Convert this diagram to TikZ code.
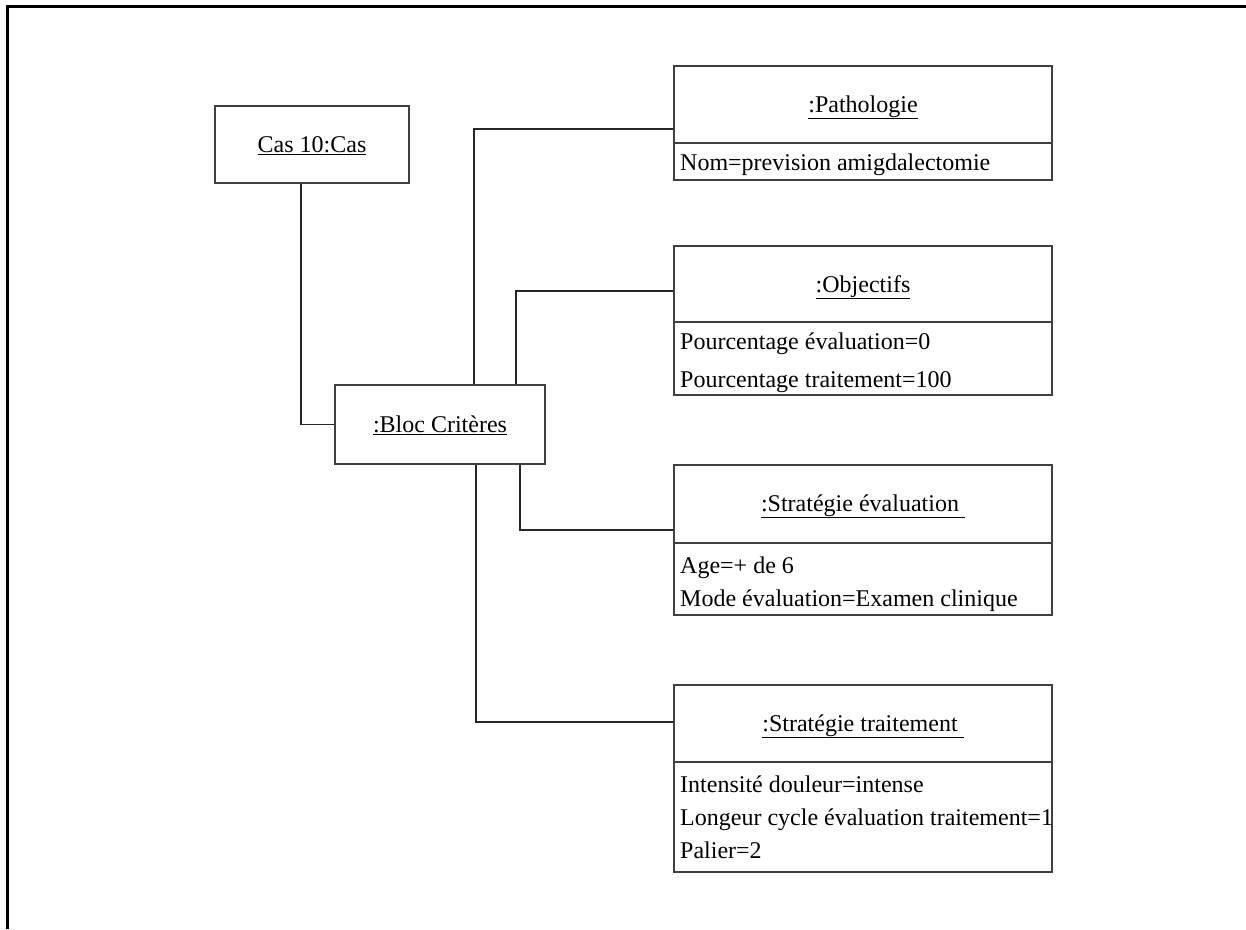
\documentclass[tikz,border=0pt]{standalone}
\usepackage{fontspec}
\setmainfont{Liberation Serif}
\begin{document}
\begin{tikzpicture}[x=1pt,y=-1pt,
  objbox/.style={draw=black!75, line width=1.2pt, fill=white, inner sep=0pt,
    text height=20pt, text depth=5pt, font=\fontsize{24}{28}\selectfont},
  ttl/.style={anchor=base, inner sep=0pt, font=\fontsize{24}{28}\selectfont},
  attr/.style={anchor=base west, inner sep=0pt, font=\fontsize{24}{28}\selectfont},
  divider/.style={draw=black!75, line width=1.2pt},
  conn/.style={draw=black!85, line width=1.2pt}]
\useasboundingbox (0,0) rectangle (1246,929);
% page frame (top and left edges only)
\draw[line width=3pt] (7.5,929) -- (7.5,6) -- (1246,6);

% simple objects
\node[objbox, minimum width=194, minimum height=77] (cas) at (312,144.5) {\underline{Cas 10:Cas}};
\node[objbox, minimum width=210, minimum height=79] (bloc) at (440,424.5) {\underline{:Bloc Critères}};

% objects with attributes
\node[objbox, minimum width=378, minimum height=114] (patho) at (863,123) {};
\node[ttl] (pathoT) at (863,112) {\underline{:Pathologie}};
\draw[divider] (674,143) -- (1052,143);
\node[attr] (pathoA) at (680,170) {Nom=prevision amigdalectomie};

\node[objbox, minimum width=378, minimum height=149] (obj) at (863,320.5) {};
\node[ttl] (objT) at (863,292) {\underline{:Objectifs}};
\draw[divider] (674,322) -- (1052,322);
\node[attr] (objA) at (680,349) {Pourcentage évaluation=0};
\node[attr] (objB) at (680,387) {Pourcentage traitement=100};

\node[objbox, minimum width=378, minimum height=150] (eval) at (863,540) {};
\node[ttl] (evalT) at (863,511) {\underline{:Stratégie évaluation\ }};
\draw[divider] (674,543) -- (1052,543);
\node[attr] (evalA) at (680,573) {Age=+ de 6};
\node[attr] (evalB) at (680,606) {Mode évaluation=Examen clinique};

\node[objbox, minimum width=378, minimum height=187] (trait) at (863,778.5) {};
\node[ttl] (traitT) at (863,731) {\underline{:Stratégie traitement\ }};
\draw[divider] (674,762) -- (1052,762);
\node[attr] (traitA) at (680,792) {Intensité douleur=intense};
\node[attr] (traitB) at (680,825) {Longeur cycle évaluation traitement=1};
\node[attr] (traitC) at (680,858) {Palier=2};

% links
\draw[conn] ([xshift=-11pt]cas.south) |- (bloc.west);
\draw[conn] ([xshift=34pt]bloc.north) |- ([yshift=-6pt]patho.west);
\draw[conn] ([xshift=76pt]bloc.north) |- ([yshift=29.5pt]obj.west);
\draw[conn] ([xshift=80pt]bloc.south) |- ([yshift=10pt]eval.west);
\draw[conn] ([xshift=36pt]bloc.south) |- ([yshift=56.5pt]trait.west);
\end{tikzpicture}
\end{document}
